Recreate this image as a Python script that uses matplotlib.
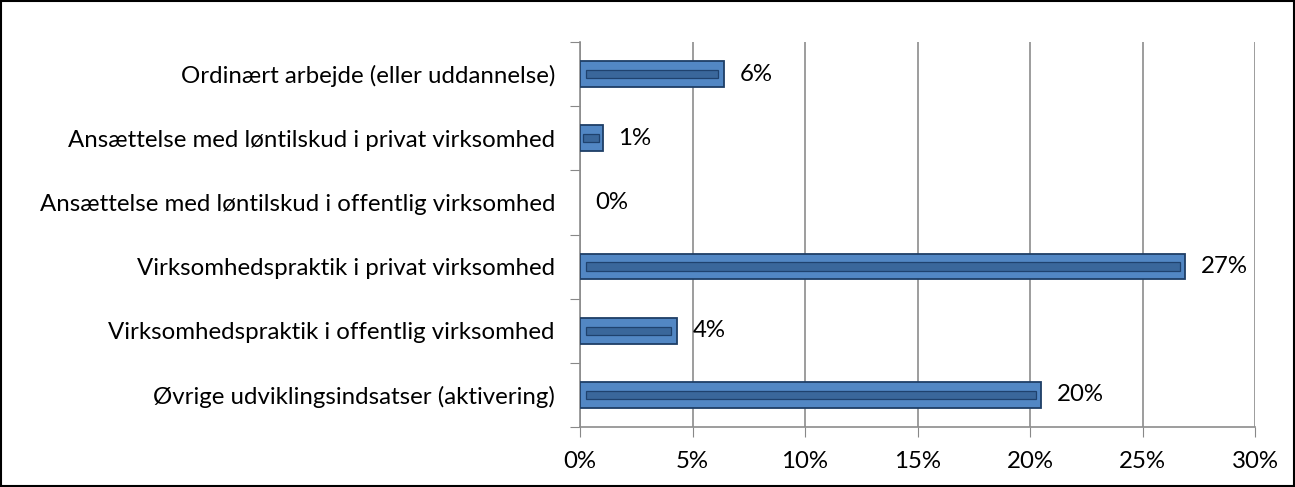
import matplotlib.pyplot as plt
from matplotlib.patches import Rectangle
from matplotlib.ticker import PercentFormatter

# data, top to bottom as in the chart
categories = [
    "Ordinært arbejde (eller uddannelse)",
    "Ansættelse med løntilskud i privat virksomhed",
    "Ansættelse med løntilskud i offentlig virksomhed",
    "Virksomhedspraktik i privat virksomhed",
    "Virksomhedspraktik i offentlig virksomhed",
    "Øvrige udviklingsindsatser (aktivering)",
]
values = [6.4, 1.0, 0.0, 26.9, 4.3, 20.5]
xticks = [0, 5, 10, 15, 20, 25, 30]

plt.rcParams['font.family'] = ['Lato', 'DejaVu Sans']
fs = 17.3

fig = plt.figure(figsize=(12.95, 4.87), dpi=100)
ax = fig.add_axes([580 / 1295, 60 / 487, 675 / 1295, 385 / 487])

ypos = list(range(len(categories)))[::-1]
bar_h = 0.4

# main bar + darker inner stripe to fake the bevel look
for y, v in zip(ypos, values):
    if v <= 0:
        continue
    ax.barh(y, v, height=bar_h, color='#5287C4', edgecolor='#1E3E66',
            linewidth=1.3, zorder=3)
    inset = min(0.25, v * 0.15)
    ax.barh(y, v - 2 * inset, left=inset, height=bar_h * 0.33,
            color='#3A679B', edgecolor='#1F426E', linewidth=0.9, zorder=4)

for y, v in zip(ypos, values):
    ax.text(v + 0.7, y, "%d%%" % round(v), va='center', ha='left',
            fontsize=fs, color='black', zorder=5)

ax.set_xlim(0, 30)
ax.set_ylim(-0.5, len(categories) - 0.5)
ax.set_xticks(xticks)
ax.xaxis.set_major_formatter(PercentFormatter(decimals=0))
ax.set_yticks([i - 0.5 for i in range(len(categories) + 1)])
ax.set_yticklabels([])
ax.set_yticks(ypos, minor=True)
ax.set_yticklabels(categories, minor=True)
ax.tick_params(axis='y', which='minor', length=0, pad=18, labelsize=fs)
ax.tick_params(axis='y', which='major', length=7, color='#888888')
ax.tick_params(axis='x', length=7, color='#888888', labelsize=fs, pad=10)

ax.grid(axis='x', color='#8C8C8C', linewidth=1.2, zorder=0)
for s in ['top', 'right']:
    ax.spines[s].set_visible(False)
for s in ['left', 'bottom']:
    ax.spines[s].set_color('#8C8C8C')
    ax.spines[s].set_linewidth(1.2)

fig.patches.append(Rectangle((0.001, 0.002), 0.998, 0.996, transform=fig.transFigure,
                             fill=False, edgecolor='black', linewidth=1.5))

fig.savefig('out.png', dpi=100)
